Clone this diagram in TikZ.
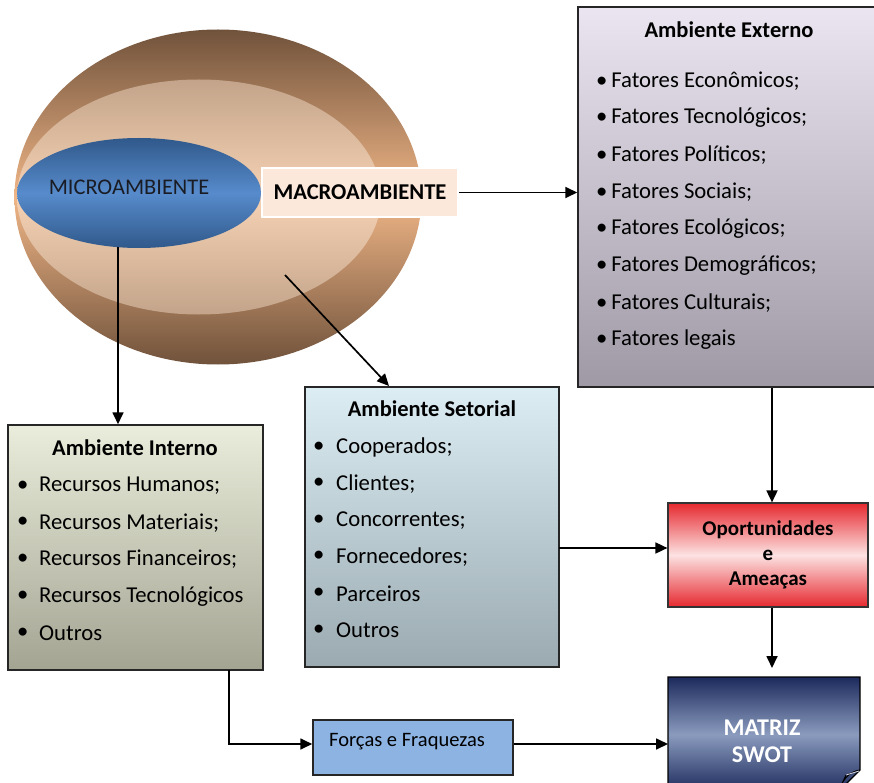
\documentclass[tikz,border=0pt]{standalone}
\usepackage{fontspec}
\setmainfont{Carlito}
\usetikzlibrary{arrows.meta,shapes.geometric,calc}

\definecolor{brownDark}{HTML}{70523B}
\definecolor{brownMid}{HTML}{F0B687}
\definecolor{peachTop}{HTML}{C3A48A}
\definecolor{peachMid}{HTML}{F6D2B4}
\definecolor{blueDark}{HTML}{30598B}
\definecolor{blueMid}{HTML}{578BCB}
\definecolor{macroFill}{HTML}{FCE8DA}
\definecolor{extTop}{HTML}{EAE5F0}
\definecolor{extBot}{HTML}{9E99A4}
\definecolor{intTop}{HTML}{EAEDDB}
\definecolor{intBot}{HTML}{A4A493}
\definecolor{setTop}{HTML}{DCEDF4}
\definecolor{setBot}{HTML}{9BAAB1}
\definecolor{oppRed}{HTML}{E5292F}
\definecolor{oppMid}{HTML}{FCE2E2}
\definecolor{swotDark}{HTML}{1C2A5C}
\definecolor{swotMid}{HTML}{8A9BBE}
\definecolor{forcaFill}{HTML}{8DB3E2}
\definecolor{microInk}{HTML}{1A1C24}

\tikzset{
  arr/.style={line width=1.7pt,-{Triangle[length=12pt,width=11pt]}},
  panel/.style={draw=black!85,line width=1.5pt},
  item/.style={anchor=west,font=\fontsize{22.7}{26}\selectfont,inner sep=0pt},
  ttl/.style={font=\bfseries\fontsize{22.5}{26}\selectfont,inner sep=0pt},
}

\begin{document}
\begin{tikzpicture}[x=1pt,y=-1pt]
\useasboundingbox (0,0) rectangle (874,783);
\clip (0,0) rectangle (874,783);

% nested environment ellipses
\node[ellipse,minimum width=407,minimum height=335,inner sep=0pt,
      top color=brownDark,bottom color=brownDark,middle color=brownMid] (macroEll) at (218,197) {};
\node[ellipse,minimum width=364,minimum height=235,inner sep=0pt,
      top color=peachTop,bottom color=peachTop,middle color=peachMid] (innerEll) at (199,197) {};
\node[ellipse,minimum width=244,minimum height=110,inner sep=0pt,
      top color=blueDark,bottom color=blueDark,middle color=blueMid] (micro) at (139,193) {};
\node[font=\fontsize{22.4}{26}\selectfont,inner sep=0pt,text=microInk] (microTxt) at (129,187) {MICROAMBIENTE};

\node[draw=white,line width=1.5pt,fill=macroFill,minimum width=196,minimum height=49,inner sep=0pt,
      font=\bfseries\fontsize{22.6}{26}\selectfont] (macro) at (360,192.5) {MACROAMBIENTE};

% Ambiente Externo
\node[panel,top color=extTop,bottom color=extBot,minimum width=300,minimum height=380,inner sep=0pt] (externo) at (728,197) {};
\node[ttl] (extT) at (729,30) {Ambiente Externo};
\foreach \t [count=\i] in {Fatores Econômicos;,Fatores Tecnológicos;,Fatores Políticos;,Fatores Sociais;,Fatores Ecológicos;,Fatores Demográficos;,Fatores Culturais;,Fatores legais}
  \node[item] (ext\i) at (596,{81+37*(\i-1)}) {\textbullet\,\t};

% Ambiente Interno
\node[panel,top color=intTop,bottom color=intBot,minimum width=255,minimum height=245,inner sep=0pt] (interno) at (135.5,547.5) {};
\node[ttl] (intT) at (135,448) {Ambiente Interno};
\foreach \t [count=\i] in {Recursos Humanos;,Recursos Materiais;,Recursos Financeiros;,Recursos Tecnológicos,Outros}
  {\node[item] (intB\i) at (17,{486+36.8*(\i-1)}) {\textbullet};
   \node[item] (int\i) at (39,{486+36.8*(\i-1)}) {\t};}

% Ambiente Setorial
\node[panel,top color=setTop,bottom color=setBot,minimum width=254,minimum height=280,inner sep=0pt] (setorial) at (432,527) {};
\node[ttl] (setT) at (432,409) {Ambiente Setorial};
\foreach \t [count=\i] in {Cooperados;,Clientes;,Concorrentes;,Fornecedores;,Parceiros,Outros}
  {\node[item] (setB\i) at (313,{447+36.6*(\i-1)}) {\textbullet};
   \node[item] (set\i) at (336,{447+36.6*(\i-1)}) {\t};}

% Oportunidades e Ameacas
\node[panel,draw=black!80,line width=1.2pt,top color=oppRed,bottom color=oppRed,middle color=oppMid,
      minimum width=200,minimum height=104,inner sep=0pt,align=center,
      font=\bfseries\fontsize{21}{25}\selectfont] (opor) at (768,555) {Oportunidades\\e\\Ameaças};

% Forcas e Fraquezas
\node[draw=black!85,line width=1.5pt,fill=forcaFill,minimum width=200,minimum height=55,inner sep=0pt] (forcas) at (413,747.5) {};
\node[anchor=west,inner sep=0pt,font=\fontsize{20.5}{24}\selectfont] (forcasTxt) at (329,742) {Forças e Fraquezas};

% Matriz SWOT page with curled corner
\shade[top color=swotDark,bottom color=swotDark,middle color=swotMid,draw=black,line width=1.2pt]
  (668,677) -- (860,677) -- (860,770) -- (838,792) -- (668,792) -- cycle;
\fill[swotDark,draw=black,line width=0.9pt] (860,770) .. controls (852,771) and (844,776) .. (838,792) -- (846,775) -- cycle;
\draw[white!70!swotMid,line width=0.8pt] (846,775) -- (859,771);
\node[font=\bfseries\fontsize{24}{27}\selectfont,text=white,align=center,inner sep=0pt] (swot) at (762,741) {MATRIZ\\SWOT};
\coordinate (swotW) at (668,744);
\coordinate (swotN) at (772,668);

% connectors
\draw[arr] (macro.east) -- (macro.east -| externo.west);
\coordinate (microFoot) at (118,247);
\draw[arr] (microFoot) -- (microFoot |- interno.north);
\coordinate (diagStart) at (285,275);
\coordinate (diagEnd) at (389,386);
\draw[arr] (diagStart) -- (diagEnd);
\draw[arr] (externo.south -| swotN) -- (opor.north -| swotN);
\coordinate (setOut) at (559,548);
\draw[arr] (setOut) -- (setOut -| opor.west);
\draw[arr] (opor.south -| swotN) -- (swotN);
\coordinate (intOut) at (229,670);
\draw[arr] (intOut) -- (229,744) -- (forcas.west |- 0,744);
\draw[arr] (forcas.east |- 0,744) -- (swotW);
\end{tikzpicture}
\end{document}
